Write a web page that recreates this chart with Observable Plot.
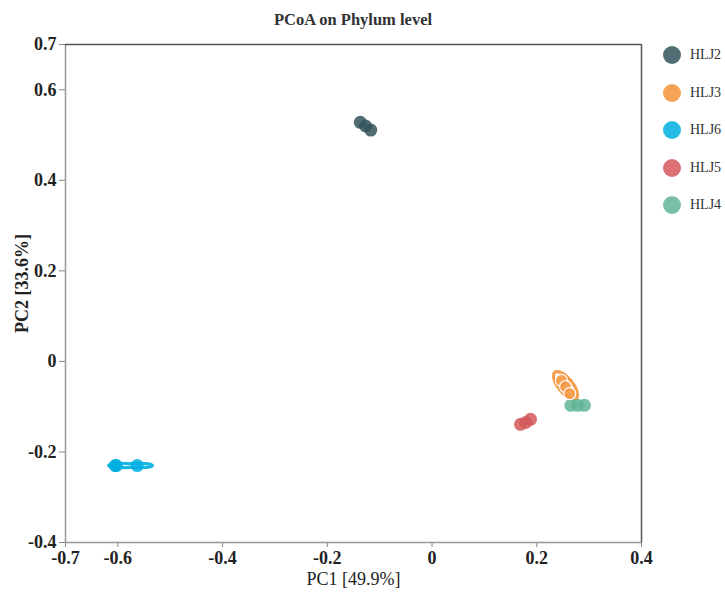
<!DOCTYPE html>
<html>
<head>
<meta charset="utf-8">
<script src="https://cdn.jsdelivr.net/npm/d3@7"></script>
<script src="https://cdn.jsdelivr.net/npm/@observablehq/plot@0.6"></script>
<style>
  body { margin: 0; background: #fff; }
  #wrap { position: relative; width: 725px; height: 592px; font-family: "Liberation Serif", "Times New Roman", serif; }
  #title { position: absolute; left: 65px; width: 576px; top: 12px; text-align: center; font-weight: bold; font-size: 16.5px; color: #333; line-height: 16px; }
  #legend { position: absolute; left: 660px; top: 44px; }
  .item { position: relative; height: 37.5px; }
  .sw { position: absolute; left: 3px; top: 2px; width: 18px; height: 18px; border-radius: 50%; opacity: 0.85; }
  .lb { position: absolute; left: 30px; top: 2px; font-size: 14px; line-height: 18px; color: #333; }
</style>
</head>
<body>
<div id="wrap">
  <div id="chart"></div>
  <div id="title">PCoA on Phylum level</div>
  <div id="legend"></div>
</div>
<script>
const groups = ["HLJ2", "HLJ3", "HLJ6", "HLJ5", "HLJ4"];
const groupColors = ["#34525a", "#f39237", "#00afe0", "#d4585a", "#5fb595"];

const sampleGroup = ["HLJ2","HLJ2","HLJ2","HLJ3","HLJ3","HLJ3","HLJ6","HLJ6","HLJ6","HLJ5","HLJ5","HLJ5","HLJ4","HLJ4","HLJ4"];
const pc1 = [-0.137, -0.127, -0.117, 0.247, 0.255, 0.263, -0.605, -0.603, -0.563, 0.169, 0.179, 0.188, 0.265, 0.278, 0.291];
const pc2 = [0.528, 0.520, 0.511, -0.042, -0.056, -0.071, -0.230, -0.230, -0.230, -0.139, -0.135, -0.128, -0.097, -0.097, -0.097];

const ellipseGroup = ["HLJ3","HLJ3","HLJ3","HLJ3","HLJ3","HLJ3","HLJ3","HLJ3","HLJ6","HLJ6","HLJ6","HLJ6","HLJ6","HLJ6","HLJ6","HLJ6"];
const ellipseX = [0.2754, 0.2620, 0.2445, 0.2330, 0.2345, 0.2479, 0.2655, 0.2769, -0.6178, -0.6100, -0.5758, -0.5420, -0.5338, -0.5420, -0.5758, -0.6100];
const ellipseY = [-0.0826, -0.0808, -0.0630, -0.0393, -0.0239, -0.0256, -0.0435, -0.0672, -0.2300, -0.2262, -0.2258, -0.2262, -0.2300, -0.2338, -0.2342, -0.2338];

const xTicks = [-0.7, -0.6, -0.4, -0.2, 0, 0.2, 0.4];
const yTicks = [0.7, 0.6, 0.4, 0.2, 0, -0.2, -0.4];
const xLabel = "PC1 [49.9%]";
const yLabel = "PC2 [33.6%]";

const samples = sampleGroup.map((g, i) => ({g, x: pc1[i], y: pc2[i]}));
const ellipses = ellipseGroup.map((g, i) => ({g, x: ellipseX[i], y: ellipseY[i]}));

const chart = Plot.plot({
  width: 725,
  height: 592,
  marginLeft: 65,
  marginRight: 84,
  marginTop: 44,
  marginBottom: 50,
  style: { fontFamily: "Liberation Serif, Times New Roman, serif", background: "#fff", color: "#222" },
  x: { domain: [-0.7, 0.4], axis: null },
  y: { domain: [-0.4, 0.7], axis: null },
  color: { domain: groups, range: groupColors },
  marks: [
    Plot.axisX({ ticks: xTicks, tickFormat: d => String(d), tickSize: 5, tickPadding: 4, fontSize: 18, fontWeight: "bold", stroke: "#888", fill: "#222", label: null }),
    Plot.axisY({ ticks: yTicks, tickFormat: d => String(d), tickSize: 6, tickPadding: 3, fontSize: 18, fontWeight: "bold", stroke: "#888", fill: "#222", label: null }),
    Plot.ruleX([-0.7], { stroke: "#999", strokeWidth: 1.5 }),
    Plot.ruleY([-0.4], { stroke: "#999", strokeWidth: 1.5 }),
    Plot.ruleY([0.7], { stroke: "#555", strokeWidth: 1.5 }),
    Plot.ruleX([0.4], { stroke: "#555", strokeWidth: 1.5 }),
    Plot.text([xLabel], { frameAnchor: "bottom", dy: 42, fontSize: 18, fill: "#222" }),
    Plot.text([yLabel], { frameAnchor: "left", textAnchor: "middle", dx: -43, dy: -10, rotate: -90, fontSize: 18, fontWeight: "bold", fill: "#222" }),
    Plot.line(ellipses, { x: "x", y: "y", z: "g", stroke: "g", strokeWidth: 3.2, curve: "catmull-rom-closed", strokeOpacity: 0.9 }),
    Plot.dot(samples, { filter: d => d.g !== "HLJ3", x: "x", y: "y", fill: "g", r: 6.5, fillOpacity: 0.85 }),
    Plot.dot(samples, { filter: d => d.g === "HLJ3", x: "x", y: "y", fill: "g", r: 6, fillOpacity: 0.85, stroke: "white", strokeWidth: 1.2 })
  ]
});
document.getElementById("chart").appendChild(chart);

const legend = d3.select("#legend");
groups.forEach((g, i) => {
  const item = legend.append("div").attr("class", "item");
  item.append("div").attr("class", "sw").style("background", groupColors[i]);
  item.append("div").attr("class", "lb").text(g);
});
</script>
</body>
</html>
